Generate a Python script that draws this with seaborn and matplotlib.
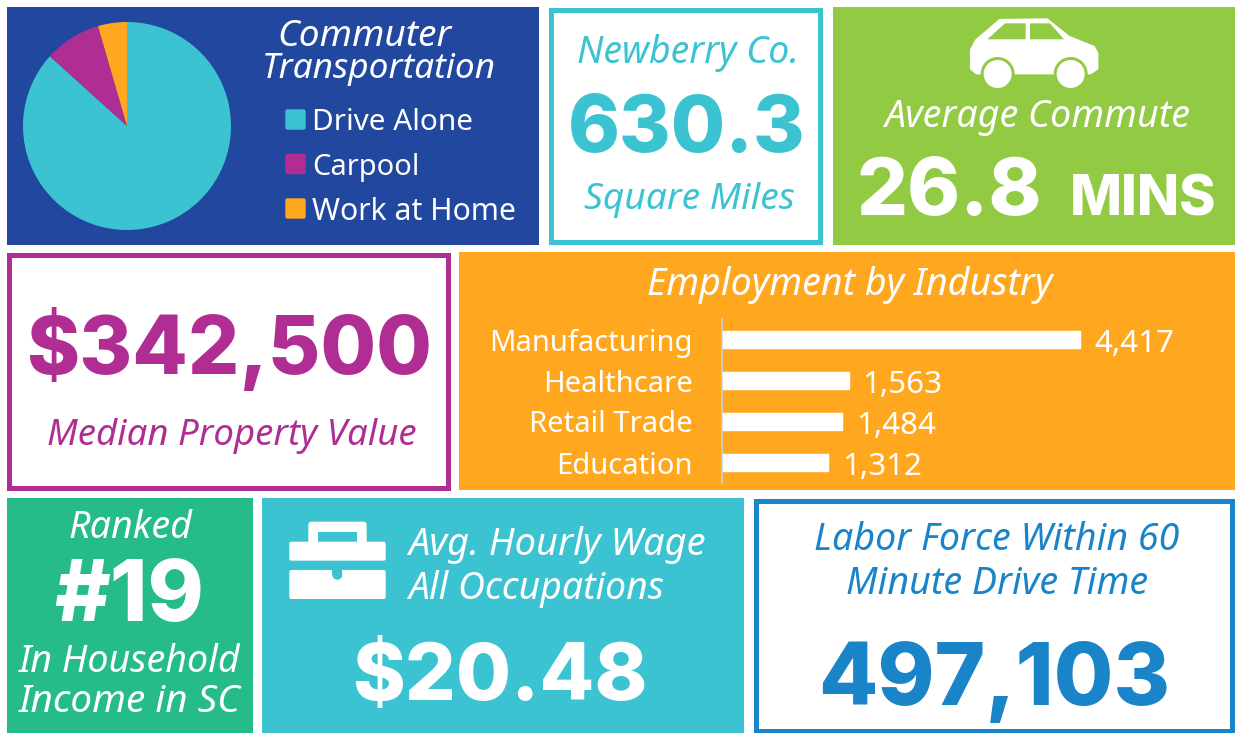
import matplotlib
matplotlib.use("Agg")
import matplotlib.pyplot as plt
from matplotlib.patches import Rectangle, FancyBboxPatch, Circle, Polygon
import pandas as pd
import seaborn as sns

W, H = 1241, 733

BLUE = '#21489E'
TEAL = '#3BC3D2'
GREEN = '#93CA43'
PURPLE = '#B02E93'
ORANGE = '#FFA81F'
SEA = '#25BB8B'
SKY = '#1A84C9'

# pie data
modos = ['Drive Alone', 'Carpool', 'Work at Home']
modos_pct = [86.7, 8.8, 4.5]
modos_col = [TEAL, PURPLE, ORANGE]

# bar data
industrias = ['Manufacturing', 'Healthcare', 'Retail Trade', 'Education']
empleos = [4417, 1563, 1484, 1312]

sns.set_theme(style='white')
REG = 'Noto Sans'
BOLD = 'Inter'
plt.rcParams['font.family'] = [REG, 'DejaVu Sans']

fig = plt.figure(figsize=(W / 100, H / 100), dpi=100, facecolor='white')
bg = fig.add_axes([0, 0, 1, 1])
bg.set_xlim(0, W)
bg.set_ylim(H, 0)
bg.axis('off')


def px_axes(x0, y0, x1, y1):
    '''Axes nuevos a partir de coordenadas en pixeles (y hacia abajo).'''
    return fig.add_axes([x0 / W, 1 - y1 / H, (x1 - x0) / W, (y1 - y0) / H])


def panel(x0, y0, x1, y1, color, borde=False):
    if borde:
        bg.add_patch(Rectangle((x0 + 2, y0 + 2.5), x1 - x0 - 5, y1 - y0 - 5,
                               fc='white', ec=color, lw=3.6, joinstyle='miter'))
    else:
        bg.add_patch(Rectangle((x0, y0), x1 - x0, y1 - y0, fc=color, ec='none'))


def texto(s, x, y, ancho, color='white', italica=True, negrita=False, ha='center', size=20):
    '''Escribe el texto y ajusta el tamaño para que ocupe el ancho en pixeles.'''
    t = bg.text(x, y + (7 if negrita else 3.5), s, color=color, ha=ha, va='center',
                family=BOLD if negrita else REG,
                style='italic' if italica else 'normal',
                weight=800 if negrita else 'normal', fontsize=size)
    r = fig.canvas.get_renderer()
    t.set_fontsize(size * ancho / t.get_window_extent(r).width)
    return t


panel(7, 7, 539, 245, BLUE)
panel(549, 7, 823, 244, TEAL, borde=True)
panel(833, 7, 1235, 245, GREEN)
panel(7, 252, 451, 490, PURPLE, borde=True)
panel(459, 252, 1235, 490, ORANGE)
panel(7, 498, 253, 733, SEA)
panel(262, 498, 744, 733, TEAL)
panel(754, 498, 1235, 733, SKY, borde=True)

# pie
ax_pie = px_axes(23, 22, 231, 230)
ax_pie.pie(modos_pct, colors=modos_col, startangle=90, counterclock=False, radius=1,
           wedgeprops={'linewidth': 0, 'edgecolor': 'none'})
ax_pie.set_xlim(-1, 1)
ax_pie.set_ylim(-1, 1)

texto('Commuter', 364, 33, 174)
texto('Transportation', 379, 65, 234)
for col, yc in zip(modos_col, [119.5, 164, 208.5]):
    bg.add_patch(FancyBboxPatch((286, yc - 9.5), 19, 19, boxstyle='round,pad=0,rounding_size=1.5',
                                fc=col, ec=col, lw=1))
anchos = {'Drive Alone': 161, 'Carpool': 107, 'Work at Home': 204}
for nombre, yc in zip(modos, [119, 164, 209]):
    texto(nombre, 312, yc, anchos[nombre], italica=False, ha='left')

# area
texto('Newberry Co.', 688, 50, 222, color=TEAL)
texto('630.3', 687, 124, 238, color=TEAL, italica=False, negrita=True)
texto('Square Miles', 689, 197, 211, color=TEAL)

# commute
texto('Average Commute', 1037, 113, 306)
texto('26.8', 949, 187, 186, italica=False, negrita=True)
texto('MINS', 1143, 194, 147, italica=False, negrita=True)


def cx(z):
    return 830 + z / 3


def cy(z):
    return z / 3


coche = [(425, 150), (440, 122), (510, 62), (650, 60), (715, 112), (790, 142), (800, 160),
         (800, 205), (780, 218), (440, 218), (425, 205)]
bg.add_patch(Polygon([(cx(a), cy(b)) for a, b in coche], closed=True, fc='white', ec='white',
                     lw=2.5, joinstyle='round'))
for ventana in ([(472, 118), (525, 70), (587, 70), (587, 118)],
                [(600, 70), (660, 70), (702, 118), (600, 118)]):
    bg.add_patch(Polygon([(cx(a), cy(b)) for a, b in ventana], closed=True, fc=GREEN, ec='none'))
for zx in (503, 722):
    bg.add_patch(Circle((cx(zx), cy(222)), 17, fc=GREEN, ec='none'))
    bg.add_patch(Circle((cx(zx), cy(222)), 14, fc='white', ec='none'))

# property
texto('$342,500', 229, 342, 406, color=PURPLE, italica=False, negrita=True)
texto('Median Property Value', 232, 432, 370, color=PURPLE)

# employment
texto('Employment by Industry', 850, 282, 406)
df_emp = pd.DataFrame({'industria': industrias, 'empleos': empleos})
ax_bar = px_axes(722, 319, 1235, 483)
sns.barplot(data=df_emp, y='industria', x='empleos', color='white', saturation=1, width=0.41,
            orient='h', ax=ax_bar)
ax_bar.patch.set_alpha(0)
ax_bar.set_xlim(0, 513 / 0.0811)
ax_bar.set(xlabel='', ylabel='', xticks=[])
ax_bar.tick_params(axis='y', length=0, pad=21, labelsize=21, labelcolor='white')
sns.despine(ax=ax_bar, bottom=True)
ax_bar.spines['left'].set_color('#C9D3D8')
ax_bar.spines['left'].set_linewidth(1.2)
etiquetas = ax_bar.bar_label(ax_bar.containers[0], labels=[f'{v:,}' for v in empleos], padding=10,
                             color='white', fontsize=22.5)
for et in etiquetas:
    et.xyann = (10, -3.5)

# ranked
texto('Ranked', 130, 525, 124)
texto('#19', 129, 592, 150, italica=False, negrita=True)
texto('In Household', 130, 658, 222)
texto('Income in SC', 130, 698, 222)

# wage
texto('Avg. Hourly Wage', 408, 541, 298, ha='left')
texto('All Occupations', 408, 585, 256, ha='left')
texto('$20.48', 500, 672, 296, italica=False, negrita=True)


def bx(z):
    return 260 + z / 3


def by(z):
    return 495 + z / 3


def caja(x0, y0, x1, y1, col, r=2.0):
    bg.add_patch(FancyBboxPatch((bx(x0), by(y0)), (x1 - x0) / 3, (y1 - y0) / 3,
                                boxstyle=f'round,pad=0,rounding_size={r}', fc=col, ec='none'))


caja(145, 80, 320, 170, 'white', r=3)
bg.add_patch(Rectangle((bx(175), by(110)), 115 / 3, 30 / 3, fc=TEAL, ec='none'))
caja(88, 140, 377, 197, 'white')
bg.add_patch(Rectangle((bx(88), by(197)), 289 / 3, 28 / 3, fc=TEAL, ec='none'))
caja(88, 225, 377, 312, 'white')
bg.add_patch(Circle((bx(232), by(239)), 5, fc=TEAL, ec='none'))
bg.add_patch(Rectangle((bx(232) - 5, by(225)), 10, 14 / 3, fc=TEAL, ec='none'))

# labor force
texto('Labor Force Within 60', 997, 537, 365, color=SKY)
texto('Minute Drive Time', 997, 581, 302, color=SKY)
texto('497,103', 994, 675, 352, color=SKY, italica=False, negrita=True)

fig.savefig('out.png', dpi=100)
